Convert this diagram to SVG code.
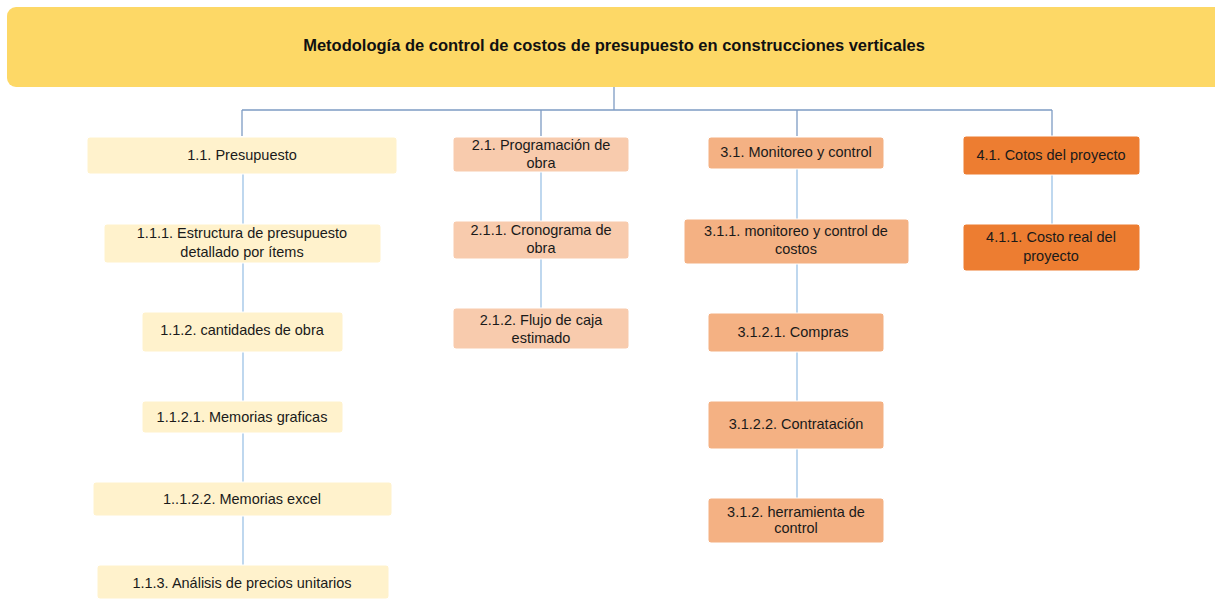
<svg xmlns="http://www.w3.org/2000/svg" width="1215" height="600" viewBox="0 0 1215 600">
<style>
.t{font-family:"Liberation Sans",Arial,sans-serif;font-size:14.5px;fill:#1a1a1a;text-anchor:middle}
.title{font-family:"Liberation Sans",Arial,sans-serif;font-size:16.5px;font-weight:bold;fill:#111;text-anchor:middle}
.c1{fill:#FFF2CC;stroke:#FFFFFF;stroke-width:1}
.c2{fill:#F8CBAD;stroke:#FFFFFF;stroke-width:1}
.c3{fill:#F4B183;stroke:#FFFFFF;stroke-width:1}
.c4{fill:#ED7D31;stroke:#FFFFFF;stroke-width:1}
.main{stroke:#7E9CC4;stroke-width:1.3;fill:none}
.sub{stroke:#9DC3E6;stroke-width:1.3;fill:none}
</style>
<rect width="1215" height="600" fill="#FFFFFF"/>
<g id="connectors">
<path class="main" d="M614 87V110M242 110H1052M242 110V136M541 110V136M797 110V136M1052 110V136"/>
<path class="sub" d="M243 174V224M243 263V312M243 352V401M243 433V482M243 516V565"/>
<path class="sub" d="M541 172V221M541 259V308"/>
<path class="sub" d="M797 169V219M797 264V313M797 352V401M797 449V498"/>
<path class="sub" d="M1052 175V224"/>
</g>
<g id="title">
<rect x="7" y="7" width="1216" height="80" rx="9" fill="#FDD866"/>
<text class="title" x="614" y="51">Metodología de control de costos de presupuesto en construcciones verticales</text>
</g>
<g id="n1_1"><rect class="c1" x="87" y="137" width="310" height="37" rx="3"/><text class="t" x="242" y="160">1.1. Presupuesto</text></g>
<g id="n1_1_1"><rect class="c1" x="104" y="224" width="277" height="39" rx="3"/><text class="t" x="242" y="238">1.1.1. Estructura de presupuesto</text><text class="t" x="242" y="257">detallado por ítems</text></g>
<g id="n1_1_2"><rect class="c1" x="142" y="312" width="201" height="40" rx="3"/><text class="t" x="242" y="335">1.1.2. cantidades de obra</text></g>
<g id="n1_1_2_1"><rect class="c1" x="142" y="401" width="201" height="32" rx="3"/><text class="t" x="242" y="422">1.1.2.1. Memorias graficas</text></g>
<g id="n1_1_2_2"><rect class="c1" x="93" y="482" width="299" height="34" rx="3"/><text class="t" x="242" y="504">1..1.2.2. Memorias  excel</text></g>
<g id="n1_1_3"><rect class="c1" x="97" y="565" width="292" height="34" rx="3"/><text class="t" x="242" y="588">1.1.3. Análisis de precios unitarios</text></g>
<g id="n2_1"><rect class="c2" x="453" y="137" width="176" height="35" rx="3"/><text class="t" x="541" y="150">2.1. Programación de</text><text class="t" x="541" y="168">obra</text></g>
<g id="n2_1_1"><rect class="c2" x="453" y="221" width="176" height="38" rx="3"/><text class="t" x="541" y="235">2.1.1. Cronograma de</text><text class="t" x="541" y="253">obra</text></g>
<g id="n2_1_2"><rect class="c2" x="453" y="308" width="176" height="41" rx="3"/><text class="t" x="541" y="325">2.1.2. Flujo de caja</text><text class="t" x="541" y="343">estimado</text></g>
<g id="n3_1"><rect class="c3" x="708" y="137" width="176" height="32" rx="3"/><text class="t" x="796" y="157">3.1. Monitoreo  y control</text></g>
<g id="n3_1_1"><rect class="c3" x="684" y="219" width="225" height="45" rx="3"/><text class="t" x="796" y="236">3.1.1. monitoreo  y control de</text><text class="t" x="796" y="254">costos</text></g>
<g id="n3_1_2_1"><rect class="c3" x="708" y="313" width="176" height="39" rx="3"/><text class="t" x="793" y="337">3.1.2.1. Compras</text></g>
<g id="n3_1_2_2"><rect class="c3" x="708" y="401" width="176" height="48" rx="3"/><text class="t" x="796" y="429">3.1.2.2. Contratación</text></g>
<g id="n3_1_2"><rect class="c3" x="708" y="498" width="176" height="45" rx="3"/><text class="t" x="796" y="517">3.1.2. herramienta de</text><text class="t" x="796" y="533">control</text></g>
<g id="n4_1"><rect class="c4" x="963" y="136" width="177" height="39" rx="3"/><text class="t" x="1051" y="160">4.1. Cotos del proyecto</text></g>
<g id="n4_1_1"><rect class="c4" x="963" y="224" width="177" height="47" rx="3"/><text class="t" x="1051" y="242">4.1.1. Costo real del</text><text class="t" x="1051" y="261">proyecto</text></g>
</svg>
